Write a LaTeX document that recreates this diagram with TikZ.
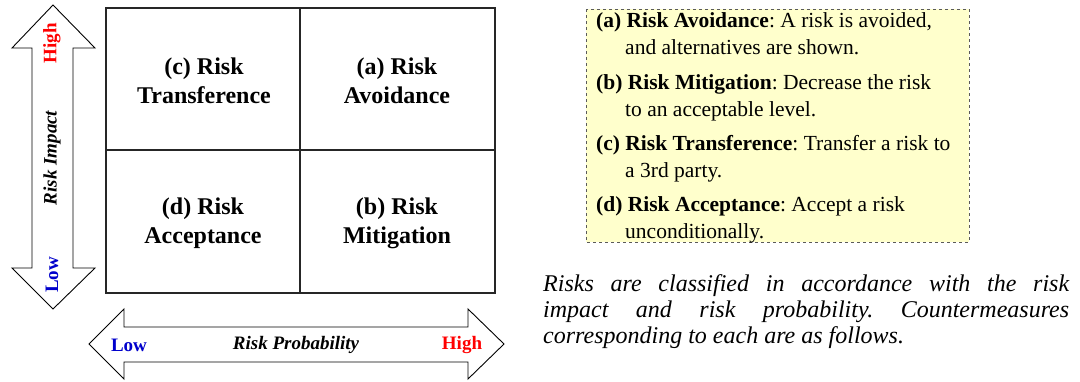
\documentclass[tikz,border=0pt]{standalone}
\usepackage{fontspec}
\setmainfont{Liberation Serif}
\frenchspacing
\definecolor{notefill}{RGB}{255,255,204}
\definecolor{noteedge}{RGB}{90,90,90}
\definecolor{lowblue}{RGB}{0,0,204}
\definecolor{highred}{RGB}{255,0,0}
\begin{document}
\begin{tikzpicture}[x=1pt,y=-1pt,
  cellline/.style={draw=black!85, line width=1.2pt},
  bigarrow/.style={draw=black, line width=0.9pt, fill=white, line join=miter},
  celltext/.style={font=\fontsize{24}{29}\selectfont\bfseries, align=center, inner sep=0pt},
  axistext/.style={font=\fontsize{19}{19}\selectfont\bfseries, inner sep=0pt},
  notebox/.style={draw=noteedge, dashed, line width=0.8pt, fill=notefill},
  noteline/.style={anchor=base west, inner sep=0pt, font=\fontsize{21.5}{26}\selectfont},
  captionline/.style={anchor=base west, inner sep=0pt, font=\fontsize{24}{26}\selectfont\itshape}
]
\useasboundingbox (0,0) rectangle (1080,381);

% vertical double arrow: risk impact
\draw[bigarrow] (53,5) -- (95,48) -- (73,48) -- (73,268) -- (95,268) -- (53,309)
  -- (12,268) -- (32,268) -- (32,48) -- (12,48) -- cycle;
\node[axistext, text=highred, rotate=90] (impHigh) at (52,43) {High};
\node[axistext, rotate=90] (impLabel) at (52,158) {\itshape Risk Impact};
\node[axistext, text=lowblue, rotate=90] (impLow) at (52,275) {Low};

% horizontal double arrow: risk probability
\draw[bigarrow] (89,344) -- (124,309) -- (124,327) -- (468,327) -- (468,309) -- (504,344)
  -- (468,379) -- (468,362) -- (124,362) -- (124,379) -- cycle;
\node[axistext, text=lowblue] (probLow) at (129,345) {Low};
\node[axistext] (probLabel) at (296,345) {\itshape Risk Probability};
\node[axistext, text=highred] (probHigh) at (462,345) {High};

% 2x2 grid
\draw[cellline] (106,8) rectangle (495,293);
\draw[cellline] (300,8) -- (300,293);
\draw[cellline] (106,150) -- (495,150);
\node[celltext] (cellC) at (204,81) {(c) Risk\\Transference};
\node[celltext] (cellA) at (397,81) {(a) Risk\\Avoidance};
\node[celltext] (cellD) at (203,223) {(d) Risk\\Acceptance};
\node[celltext] (cellB) at (397,223) {(b) Risk\\Mitigation};

% legend box
\draw[notebox] (586,9) rectangle (969,242);
\node[noteline] (la1) at (596,27)  {\textbf{(a) Risk Avoidance}: A risk is avoided,};
\node[noteline] (la2) at (625,54)  {and alternatives are shown.};
\node[noteline] (lb1) at (596,89)  {\textbf{(b) Risk Mitigation}: Decrease the risk};
\node[noteline] (lb2) at (625,116) {to an acceptable level.};
\node[noteline] (lc1) at (596,150) {\textbf{(c) Risk Transference}: Transfer a risk to};
\node[noteline] (lc2) at (625,177) {a 3rd party.};
\node[noteline] (ld1) at (596,211) {\textbf{(d) Risk Acceptance}: Accept a risk};
\node[noteline] (ld2) at (625,238) {unconditionally.};

% caption
\node[captionline] (cap1) at (543,291) {\makebox[526pt][s]{Risks are classified in accordance with the risk}};
\node[captionline] (cap2) at (543,317) {\makebox[526pt][s]{impact and risk probability. Countermeasures}};
\node[captionline] (cap3) at (543,343) {corresponding to each are as follows.};
\end{tikzpicture}
\end{document}
